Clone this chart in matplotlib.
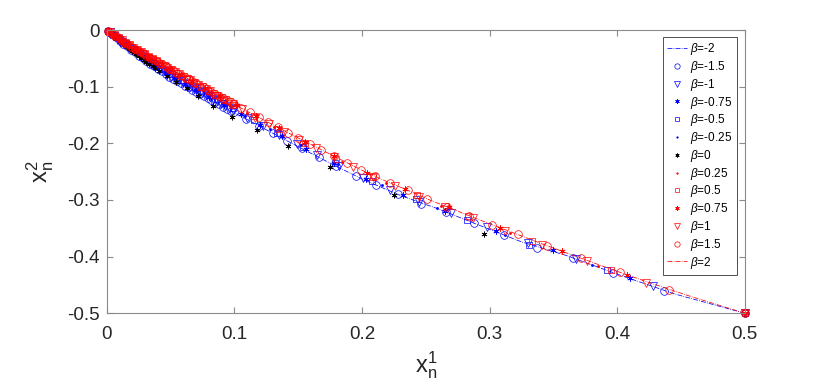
import matplotlib
matplotlib.use("Agg")
import matplotlib.pyplot as plt

plt.rcParams['font.family'] = ['Liberation Sans', 'DejaVu Sans']
plt.rcParams['mathtext.fontset'] = 'custom'
plt.rcParams['mathtext.rm'] = 'Liberation Sans'
plt.rcParams['mathtext.it'] = 'Liberation Sans:italic'

# ---- data ----
betas = ['-2', '-1.5', '-1', '-0.75', '-0.5', '-0.25', '0', '0.25', '0.5', '0.75', '1', '1.5', '2']

x_m2 = [0.5, 0.445, 0.40, 0.36, 0.325, 0.29, 0.26, 0.23, 0.2, 0.175, 0.15, 0.13, 0.11, 0.095, 0.08, 0.068, 0.057,
        0.047, 0.039, 0.032, 0.026, 0.021, 0.017, 0.013, 0.010, 0.007, 0.005, 0.003, 0.001, 0.0]
y_m2 = [-0.5, -0.466, -0.431, -0.398, -0.374, -0.343, -0.316, -0.292, -0.263, -0.235, -0.206, -0.182, -0.158, -0.140,
        -0.121, -0.106, -0.093, -0.080, -0.067, -0.056, -0.046, -0.038, -0.031, -0.024, -0.020, -0.013, -0.010, -0.005,
        -0.002, 0.0]

x_m15 = [0.5, 0.437, 0.397, 0.365, 0.337, 0.311, 0.288, 0.266, 0.246, 0.228, 0.211, 0.195, 0.180, 0.166, 0.153, 0.141,
         0.130, 0.119, 0.109, 0.100, 0.097, 0.094, 0.091, 0.088, 0.085, 0.082, 0.079, 0.076, 0.073, 0.070, 0.067, 0.064,
         0.061, 0.058, 0.055, 0.052, 0.049, 0.046, 0.043, 0.040, 0.037, 0.034, 0.031, 0.028, 0.025, 0.022, 0.019, 0.016,
         0.013, 0.010, 0.007, 0.004, 0.001]
y_m15 = [-0.5, -0.460, -0.429, -0.402, -0.384, -0.362, -0.341, -0.321, -0.308, -0.290, -0.274, -0.257, -0.240, -0.224,
         -0.209, -0.195, -0.182, -0.169, -0.157, -0.144, -0.142, -0.139, -0.135, -0.131, -0.127, -0.124, -0.120, -0.116,
         -0.113, -0.109, -0.105, -0.101, -0.098, -0.094, -0.090, -0.086, -0.082, -0.078, -0.073, -0.068, -0.064, -0.059,
         -0.055, -0.049, -0.045, -0.039, -0.035, -0.028, -0.024, -0.020, -0.013, -0.007, -0.002]

x_m1 = [0.5, 0.428, 0.368, 0.330, 0.298, 0.270, 0.245, 0.222, 0.201, 0.182, 0.165, 0.149, 0.135, 0.122, 0.110,
        0.0985, 0.0955, 0.0925, 0.0895, 0.0865, 0.0835, 0.0805, 0.0775, 0.0745, 0.0715, 0.0685, 0.0655, 0.0625, 0.0595,
        0.0565, 0.0535, 0.0505, 0.0475, 0.0445, 0.0415, 0.0385, 0.0355, 0.0325, 0.0295, 0.0265, 0.0235, 0.0205, 0.0175,
        0.0145, 0.0115, 0.0085, 0.0055, 0.0025]
y_m1 = [-0.5, -0.452, -0.404, -0.376, -0.348, -0.323, -0.304, -0.282, -0.261, -0.240, -0.220, -0.202, -0.185, -0.169,
        -0.155, -0.141, -0.137, -0.134, -0.130, -0.126, -0.122, -0.119, -0.115, -0.111, -0.108, -0.104, -0.100, -0.096,
        -0.093, -0.089, -0.085, -0.082, -0.077, -0.073, -0.068, -0.063, -0.059, -0.054, -0.050, -0.045, -0.040, -0.036,
        -0.031, -0.025, -0.021, -0.016, -0.010, -0.004]

x_m075 = [0.5, 0.410, 0.350, 0.305, 0.265, 0.232, 0.203, 0.178, 0.156, 0.137, 0.120, 0.105, 0.092, 0.080, 0.070, 0.061,
          0.053, 0.046, 0.040, 0.034, 0.029, 0.025, 0.021, 0.018, 0.015, 0.012, 0.010, 0.008, 0.006, 0.004, 0.002]
y_m075 = [-0.5, -0.438, -0.389, -0.354, -0.319, -0.291, -0.263, -0.235, -0.210, -0.187, -0.167, -0.149, -0.133, -0.118,
          -0.106, -0.095, -0.085, -0.075, -0.066, -0.057, -0.049, -0.043, -0.037, -0.032, -0.026, -0.022, -0.019, -0.015,
          -0.011, -0.007, -0.003]

x_m05 = [0.5, 0.392, 0.331, 0.282, 0.242, 0.208, 0.179, 0.154, 0.133, 0.115, 0.099, 0.092, 0.086, 0.080, 0.074, 0.069,
         0.064, 0.059, 0.055, 0.051, 0.047, 0.043, 0.040, 0.037, 0.034, 0.031, 0.028, 0.025, 0.022, 0.019, 0.016, 0.013,
         0.010, 0.007, 0.005, 0.003, 0.001]
y_m05 = [-0.5, -0.423, -0.379, -0.336, -0.299, -0.266, -0.234, -0.206, -0.181, -0.159, -0.138, -0.129, -0.122, -0.114,
         -0.107, -0.101, -0.094, -0.088, -0.083, -0.078, -0.073, -0.067, -0.062, -0.058, -0.054, -0.049, -0.045, -0.041,
         -0.036, -0.032, -0.027, -0.022, -0.018, -0.012, -0.009, -0.005, -0.002]

x_m025 = [0.5, 0.380, 0.312, 0.259, 0.216, 0.181, 0.152, 0.128, 0.108, 0.091, 0.077, 0.065, 0.055, 0.046, 0.039, 0.033,
          0.028, 0.023, 0.019, 0.016, 0.013, 0.010, 0.008, 0.006, 0.004, 0.002]
y_m025 = [-0.5, -0.414, -0.362, -0.315, -0.274, -0.236, -0.203, -0.175, -0.151, -0.128, -0.111, -0.096, -0.083, -0.071,
          -0.061, -0.052, -0.045, -0.038, -0.032, -0.027, -0.022, -0.018, -0.014, -0.011, -0.007, -0.003]

x_0 = [0.5, 0.2955, 0.225, 0.175, 0.142, 0.1176, 0.098, 0.083, 0.0713, 0.0627, 0.054, 0.047, 0.041, 0.038, 0.036, 0.033,
       0.031, 0.029, 0.027, 0.025, 0.023, 0.021, 0.020, 0.018, 0.017, 0.015, 0.014, 0.012, 0.010, 0.008, 0.006, 0.004, 0.002]
y_0 = [-0.5, -0.3604, -0.2915, -0.2426, -0.205, -0.1767, -0.1537, -0.134, -0.1166, -0.1025, -0.092, -0.081, -0.072,
       -0.067, -0.064, -0.059, -0.056, -0.052, -0.049, -0.046, -0.042, -0.039, -0.037, -0.034, -0.032, -0.028, -0.027,
       -0.023, -0.020, -0.016, -0.012, -0.007, -0.004]

x_p025 = [0.5, 0.385, 0.316, 0.262, 0.219, 0.184, 0.155, 0.131, 0.110, 0.093, 0.079, 0.067, 0.056, 0.047, 0.040, 0.034,
          0.028, 0.024, 0.020, 0.016, 0.013, 0.011, 0.009, 0.007, 0.005, 0.004, 0.003, 0.002, 0.001]
y_p025 = [-0.5, -0.417, -0.359, -0.311, -0.270, -0.233, -0.200, -0.171, -0.146, -0.125, -0.108, -0.093, -0.079, -0.067,
          -0.058, -0.050, -0.042, -0.036, -0.030, -0.024, -0.020, -0.017, -0.014, -0.011, -0.008, -0.006, -0.005, -0.003, -0.002]

x_p05 = [0.5, 0.395, 0.333, 0.283, 0.243, 0.209, 0.180, 0.155, 0.134, 0.115, 0.099, 0.092, 0.085, 0.079, 0.073, 0.068,
         0.063, 0.058, 0.054, 0.050, 0.046, 0.042, 0.039, 0.036, 0.033, 0.030, 0.028, 0.026, 0.024, 0.022, 0.020, 0.018,
         0.016, 0.014, 0.012, 0.010, 0.008, 0.006, 0.004, 0.002]
y_p05 = [-0.5, -0.424, -0.372, -0.329, -0.292, -0.259, -0.227, -0.199, -0.174, -0.151, -0.132, -0.123, -0.114, -0.107,
         -0.100, -0.093, -0.087, -0.081, -0.076, -0.070, -0.064, -0.059, -0.055, -0.051, -0.047, -0.043, -0.041, -0.038,
         -0.036, -0.033, -0.030, -0.027, -0.024, -0.022, -0.019, -0.016, -0.013, -0.010, -0.006, -0.003]

x_p075 = [0.5, 0.408, 0.357, 0.308, 0.268, 0.234, 0.204, 0.178, 0.155, 0.135, 0.117, 0.102, 0.089, 0.077, 0.067, 0.058,
          0.050, 0.043, 0.037, 0.032, 0.027, 0.023, 0.019, 0.016, 0.013, 0.011, 0.009, 0.007, 0.005, 0.004, 0.003, 0.002, 0.001]
y_p075 = [-0.5, -0.432, -0.391, -0.349, -0.313, -0.281, -0.252, -0.223, -0.197, -0.173, -0.151, -0.133, -0.117, -0.102,
          -0.090, -0.079, -0.069, -0.060, -0.052, -0.046, -0.040, -0.034, -0.029, -0.024, -0.020, -0.017, -0.014, -0.011,
          -0.008, -0.006, -0.005, -0.003, -0.002]

x_p1 = [0.5, 0.423, 0.376, 0.341, 0.312, 0.287, 0.265, 0.245, 0.226, 0.209, 0.193, 0.178, 0.164, 0.151, 0.139, 0.127,
        0.116, 0.106, 0.0985, 0.0955, 0.0925, 0.0895, 0.0865, 0.0835, 0.0805, 0.0775, 0.0745, 0.0715, 0.0685, 0.0655,
        0.0625, 0.0595, 0.0565, 0.0535, 0.0505, 0.0475, 0.0445, 0.0415, 0.0385, 0.0355, 0.0325, 0.0295, 0.0265, 0.0235,
        0.0205, 0.0175, 0.0145, 0.0115, 0.0085, 0.0055, 0.0025]
y_p1 = [-0.5, -0.446, -0.408, -0.379, -0.354, -0.332, -0.313, -0.294, -0.276, -0.259, -0.242, -0.225, -0.209, -0.194,
        -0.180, -0.165, -0.155, -0.140, -0.131, -0.127, -0.123, -0.120, -0.116, -0.112, -0.108, -0.104, -0.101, -0.097,
        -0.093, -0.089, -0.086, -0.082, -0.078, -0.074, -0.070, -0.067, -0.063, -0.059, -0.055, -0.051, -0.047, -0.043,
        -0.039, -0.035, -0.031, -0.027, -0.022, -0.018, -0.014, -0.009, -0.004]

x_p15 = [0.5, 0.441, 0.402, 0.372, 0.345, 0.322, 0.302, 0.284, 0.267, 0.251, 0.236, 0.222, 0.210, 0.199, 0.188, 0.178,
         0.168, 0.159, 0.150, 0.142, 0.134, 0.126, 0.119, 0.112, 0.105, 0.100, 0.097, 0.094, 0.091, 0.088, 0.085, 0.082,
         0.079, 0.076, 0.073, 0.070, 0.067, 0.064, 0.061, 0.058, 0.055, 0.052, 0.049, 0.046, 0.043, 0.040, 0.037, 0.034,
         0.031, 0.028, 0.025, 0.022, 0.019, 0.016, 0.013, 0.010, 0.007, 0.004, 0.001]
y_p15 = [-0.5, -0.459, -0.428, -0.403, -0.381, -0.361, -0.344, -0.328, -0.312, -0.298, -0.283, -0.270, -0.258, -0.247,
         -0.234, -0.223, -0.212, -0.201, -0.191, -0.181, -0.172, -0.162, -0.154, -0.145, -0.137, -0.131, -0.127, -0.124,
         -0.120, -0.116, -0.112, -0.109, -0.105, -0.101, -0.098, -0.094, -0.090, -0.086, -0.083, -0.079, -0.075, -0.071,
         -0.068, -0.064, -0.060, -0.056, -0.052, -0.049, -0.045, -0.041, -0.037, -0.033, -0.029, -0.024, -0.020, -0.016,
         -0.011, -0.006, -0.002]

x_p2 = [0.5, 0.455, 0.420, 0.390, 0.362, 0.337, 0.314, 0.293, 0.273, 0.254, 0.236, 0.219, 0.203, 0.188, 0.174, 0.160,
        0.147, 0.135, 0.124, 0.113, 0.103, 0.093, 0.084, 0.075, 0.067, 0.059, 0.052, 0.045, 0.039, 0.033, 0.028, 0.023,
        0.018, 0.014, 0.010, 0.007, 0.004, 0.002, 0.0]
y_p2 = [-0.5, -0.4685, -0.442, -0.418, -0.395, -0.374, -0.354, -0.336, -0.318, -0.301, -0.283, -0.267, -0.251, -0.234,
        -0.218, -0.202, -0.187, -0.173, -0.160, -0.147, -0.135, -0.122, -0.111, -0.100, -0.090, -0.080, -0.072, -0.063,
        -0.055, -0.047, -0.041, -0.034, -0.027, -0.022, -0.016, -0.011, -0.006, -0.003, 0.0]

xs = [x_m2, x_m15, x_m1, x_m075, x_m05, x_m025, x_0, x_p025, x_p05, x_p075, x_p1, x_p15, x_p2]
ys = [y_m2, y_m15, y_m1, y_m075, y_m05, y_m025, y_0, y_p025, y_p05, y_p075, y_p1, y_p15, y_p2]

x_ticks = [0, 0.1, 0.2, 0.3, 0.4, 0.5]
x_ticklabels = ['0', '0.1', '0.2', '0.3', '0.4', '0.5']
y_ticks = [-0.5, -0.4, -0.3, -0.2, -0.1, 0]
y_ticklabels = ['-0.5', '-0.4', '-0.3', '-0.2', '-0.1', '0']

# ---- styles ----
ast = (6, 2, 0)
styles = [
    dict(color='b', ls='-.', marker=None),
    dict(color='b', ls='none', marker='o', mfc='none', ms=5.5),
    dict(color='b', ls='none', marker='v', mfc='none', ms=5.5),
    dict(color='b', ls='none', marker=ast, ms=4.5),
    dict(color='b', ls='none', marker='s', mfc='none', ms=5),
    dict(color='b', ls='none', marker='.', ms=3),
    dict(color='k', ls='none', marker=ast, ms=4.2),
    dict(color='r', ls='none', marker='.', ms=3),
    dict(color='r', ls='none', marker='s', mfc='none', ms=5),
    dict(color='r', ls='none', marker=ast, ms=4.5),
    dict(color='r', ls='none', marker='v', mfc='none', ms=5.5),
    dict(color='r', ls='none', marker='o', mfc='none', ms=5.5),
    dict(color='r', ls='-.', marker=None),
]

fig = plt.figure(figsize=(8.22, 3.91), dpi=100)
ax = fig.add_axes([0.130, 0.199, 0.776, 0.724])

for b, x, y, st in zip(betas, xs, ys, styles):
    ax.plot(x, y, lw=0.55, mew=0.5, label=r'$\beta$=' + b, clip_on=False, **st)

ax.set_xlim(0, 0.5)
ax.set_ylim(-0.5, 0)
ax.set_xticks(x_ticks)
ax.set_xticklabels(x_ticklabels)
ax.set_yticks(y_ticks)
ax.set_yticklabels(y_ticklabels)

gray = '#8a8a8a'
for s in ax.spines.values():
    s.set_color(gray)
    s.set_linewidth(0.8)
ax.tick_params(direction='in', length=4.5, width=0.8, color=gray, labelcolor='#262626',
               labelsize=13.5, top=True, right=True)
ax.tick_params(axis='x', pad=9)
ax.tick_params(axis='y', pad=5)

ax.set_xlabel(r'$\mathregular{x_n^1}$', fontsize=17, color='#262626', labelpad=5)
ax.set_ylabel(r'$\mathregular{x_n^2}$', fontsize=17, color='#262626', labelpad=8)

leg = ax.legend(loc='upper right', bbox_to_anchor=(0.9875, 0.975), borderaxespad=0,
                fontsize=8.5, labelspacing=0.15, handlelength=1.7, handletextpad=0.3, markerscale=0.7,
                borderpad=0.35, fancybox=False, framealpha=1, edgecolor='#333333')
leg.get_frame().set_linewidth(0.6)

fig.savefig('out.png', dpi=100)
